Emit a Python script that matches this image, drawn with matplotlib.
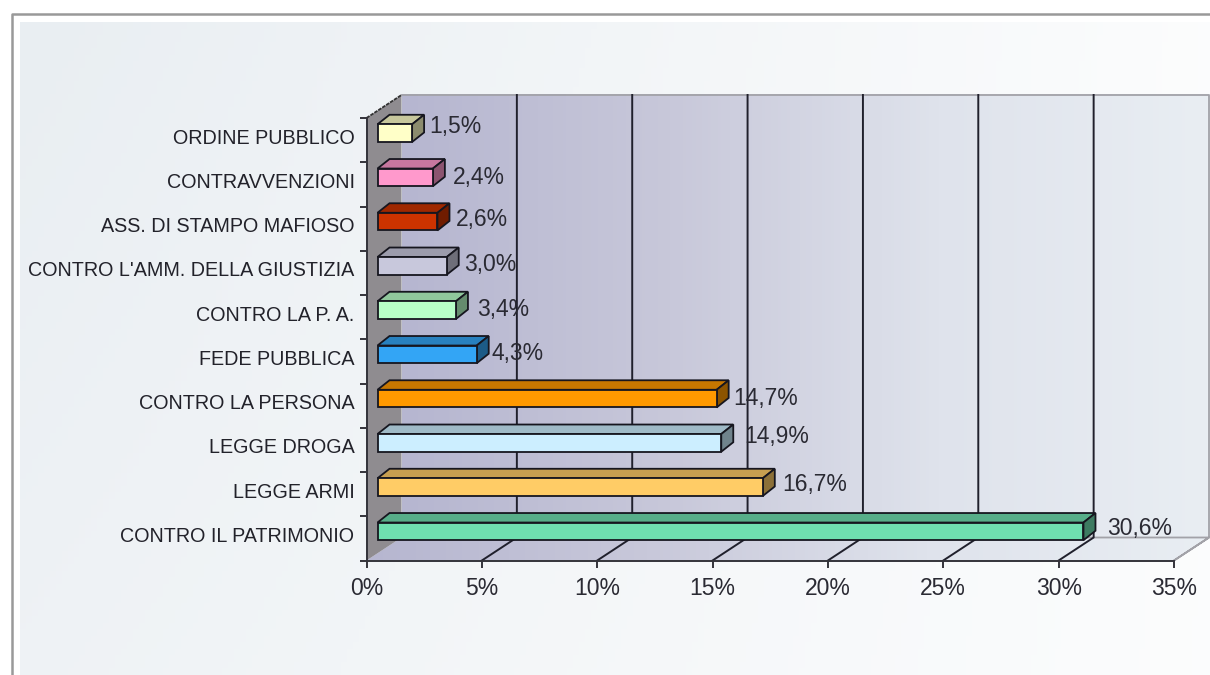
import numpy as np
import matplotlib
matplotlib.use("Agg")
import matplotlib.pyplot as plt
from matplotlib.patches import Polygon
from matplotlib.path import Path
from matplotlib.transforms import Affine2D, IdentityTransform
from matplotlib.colors import LinearSegmentedColormap, to_rgb

plt.rcParams['font.family'] = ['Liberation Sans', 'DejaVu Sans']

# Chart values, bottom bar first
categories = ["CONTRO IL PATRIMONIO", "LEGGE ARMI", "LEGGE DROGA", "CONTRO LA PERSONA",
              "FEDE PUBBLICA", "CONTRO LA P. A.", "CONTRO L'AMM. DELLA GIUSTIZIA",
              "ASS. DI STAMPO MAFIOSO", "CONTRAVVENZIONI", "ORDINE PUBBLICO"]
values = [30.6, 16.7, 14.9, 14.7, 4.3, 3.4, 3.0, 2.6, 2.4, 1.5]
value_labels = ["30,6%", "16,7%", "14,9%", "14,7%", "4,3%", "3,4%", "3,0%", "2,6%", "2,4%", "1,5%"]
x_ticks = [0, 5, 10, 15, 20, 25, 30, 35]
x_tick_labels = ["0%", "5%", "10%", "15%", "20%", "25%", "30%", "35%"]

# Styling
bar_colors = ["#6fdfb0", "#ffcc66", "#cceeff", "#ff9900", "#33a5f5",
              "#b8ffc8", "#c8c8dc", "#cc3300", "#ff99cc", "#ffffc8"]
label_nudge_x = [7, 2, 6, 0, -2, 4, 0, 1, 3, 0]
label_nudge_y = [3, 3, 6, 0, 1, 1, 1, 2, 0, 7]
W, H = 1210, 675
wall_dx, wall_dy = 35, 23      # depth of the box in pixels
bar_dx, bar_dy = 11, 7         # where the bars stand inside the box
depth_dx, depth_dy = 12, 9.5   # depth of each bar

fig = plt.figure(figsize=(W / 100, H / 100), dpi=100, facecolor="white")

# Page background and frame
bg = fig.add_axes([0, 0, 1, 1], zorder=0)
bg.set_xlim(0, W)
bg.set_ylim(H, 0)
bg.axis("off")
xx, yy = np.meshgrid(np.linspace(0, 1, 200), np.linspace(0, 1, 100))
panel = np.clip(xx * 0.85 + (yy * 0.25 * (1 - xx)), 0, 1)
panel_cmap = LinearSegmentedColormap.from_list("panel", ["#e9eef2", "#ffffff"])
bg.imshow(panel, cmap=panel_cmap, extent=(20, W, H, 22), aspect="auto", vmin=0, vmax=1)
bg.set_xlim(0, W)
bg.set_ylim(H, 0)
bg.plot([11.5, 11.5, W], [H, 13.5, 13.5], color="#999999", lw=1.8)

# Main axes sit on the front plane of the 3D box
ax = fig.add_axes([366.5 / W, (H - 560.5) / H, (1174 - 366.5) / W, (560.5 - 118) / H], zorder=1)
ax.patch.set_alpha(0)
ax.set_xlim(0, 35)
ax.set_ylim(-0.5, 9.5)


def to_px(x, y, dx=0, dy=0):
    return ax.transData.transform((x, y)) + np.array([dx, dy])


wall_cmap = LinearSegmentedColormap.from_list("wall", ["#b6b6d0", "#c8c8da", "#dfe3ec", "#e9eef3"])
grad = np.linspace(0, 1, 256).reshape(1, -1)

# Back wall
wall_shift = ax.transData + Affine2D().translate(wall_dx, wall_dy)
ax.imshow(grad, cmap=wall_cmap, extent=(0, 35, -0.5, 9.5), aspect="auto",
          transform=wall_shift, clip_on=False, zorder=1)

# Floor
fl = [to_px(0, -0.5), to_px(35, -0.5), to_px(35, -0.5, wall_dx, wall_dy), to_px(0, -0.5, wall_dx, wall_dy)]
fl_img = ax.imshow(grad, cmap=wall_cmap, aspect="auto", transform=IdentityTransform(),
                   extent=(fl[0][0], fl[2][0], fl[0][1], fl[2][1]), zorder=1)
fl_img.set_clip_box(fig.bbox)
fl_img.set_clip_path(Path(np.array(fl + [fl[0]])), IdentityTransform())
ax.set_xlim(0, 35)
ax.set_ylim(-0.5, 9.5)

# Left wall
left = [to_px(0, -0.5), to_px(0, 9.5), to_px(0, 9.5, wall_dx, wall_dy), to_px(0, -0.5, wall_dx, wall_dy)]
ax.add_patch(Polygon(left, closed=True, facecolor="#8f8c90", edgecolor="none",
                     transform=IdentityTransform(), clip_on=False, zorder=2))

# Outline of wall and floor
outline = [to_px(0, 9.5, wall_dx, wall_dy), to_px(35, 9.5, wall_dx, wall_dy), to_px(35, -0.5, wall_dx, wall_dy),
           to_px(35, -0.5), to_px(35, -0.5, wall_dx, wall_dy), to_px(0, -0.5, wall_dx, wall_dy)]
ax.plot(*np.array(outline).T, color="#a2a2a8", lw=1.3, transform=IdentityTransform(), clip_on=False, zorder=3)
ax.plot(*np.array([to_px(0, 9.5), to_px(0, 9.5, wall_dx, wall_dy)]).T, color="#333333", lw=1.3,
        ls=(0, (2, 0.6)), transform=IdentityTransform(), clip_on=False, zorder=3)

# Grid on wall and floor
for t in x_ticks[1:-1]:
    pts = np.array([to_px(t, -0.5), to_px(t, -0.5, wall_dx, wall_dy), to_px(t, 9.5, wall_dx, wall_dy)])
    ax.plot(pts[:, 0], pts[:, 1], color="#20202c", lw=1.4, transform=IdentityTransform(),
            clip_on=False, zorder=3)

# Bars: front face, top and side
y_pos = np.arange(len(values))
bar_shift = ax.transData + Affine2D().translate(bar_dx, bar_dy)
bar_h = 0.4
edge = "#16161f"
for i, v in enumerate(values):
    rgb = np.array(to_rgb(bar_colors[i]))
    y0, y1 = i - bar_h / 2, i + bar_h / 2
    top = [to_px(0, y1, bar_dx, bar_dy), to_px(v, y1, bar_dx, bar_dy),
           to_px(v, y1, bar_dx + depth_dx, bar_dy + depth_dy), to_px(0, y1, bar_dx + depth_dx, bar_dy + depth_dy)]
    side = [to_px(v, y0, bar_dx, bar_dy), to_px(v, y1, bar_dx, bar_dy),
            to_px(v, y1, bar_dx + depth_dx, bar_dy + depth_dy), to_px(v, y0, bar_dx + depth_dx, bar_dy + depth_dy)]
    ax.add_patch(Polygon(top, closed=True, facecolor=rgb * 0.78, edgecolor=edge, lw=1.3,
                         transform=IdentityTransform(), clip_on=False, zorder=4))
    ax.add_patch(Polygon(side, closed=True, facecolor=rgb * 0.55, edgecolor=edge, lw=1.3,
                         transform=IdentityTransform(), clip_on=False, zorder=4))
    ax.barh(i, v, height=bar_h, color=bar_colors[i], edgecolor=edge, lw=1.3,
            transform=bar_shift, clip_on=False, zorder=5)
    lx, ly = to_px(v, i, bar_dx + depth_dx + 5 + label_nudge_x[i], bar_dy + label_nudge_y[i])
    ax.text(lx, ly, value_labels[i], transform=IdentityTransform(), fontsize=16.5,
            color="#2a2a33", ha="left", va="center", zorder=6)

ax.set_xlim(0, 35)
ax.set_ylim(-0.5, 9.5)

# Axes, ticks and labels
for s in ["top", "right"]:
    ax.spines[s].set_visible(False)
for s in ["left", "bottom"]:
    ax.spines[s].set_color("#33333a")
    ax.spines[s].set_linewidth(1.4)
    ax.spines[s].set_zorder(7)
ax.set_xticks(x_ticks)
ax.set_xticklabels(x_tick_labels, fontsize=16.5, color="#2a2a33")
ax.tick_params(axis="x", length=5, width=1.4, color="#33333a", pad=7)
ax.set_yticks(np.arange(-0.5, 10, 1))
ax.set_yticklabels([])
ax.tick_params(axis="y", which="major", length=5, width=1.4, color="#33333a")

# Category labels sit a little above the middle of each band
for i, name in enumerate(categories):
    lx, ly = to_px(0, i, -12, 2)
    ax.text(lx, ly, name, transform=IdentityTransform(), fontsize=14.2, color="#22222a",
            ha="right", va="center")

fig.savefig("out.png", dpi=100)
